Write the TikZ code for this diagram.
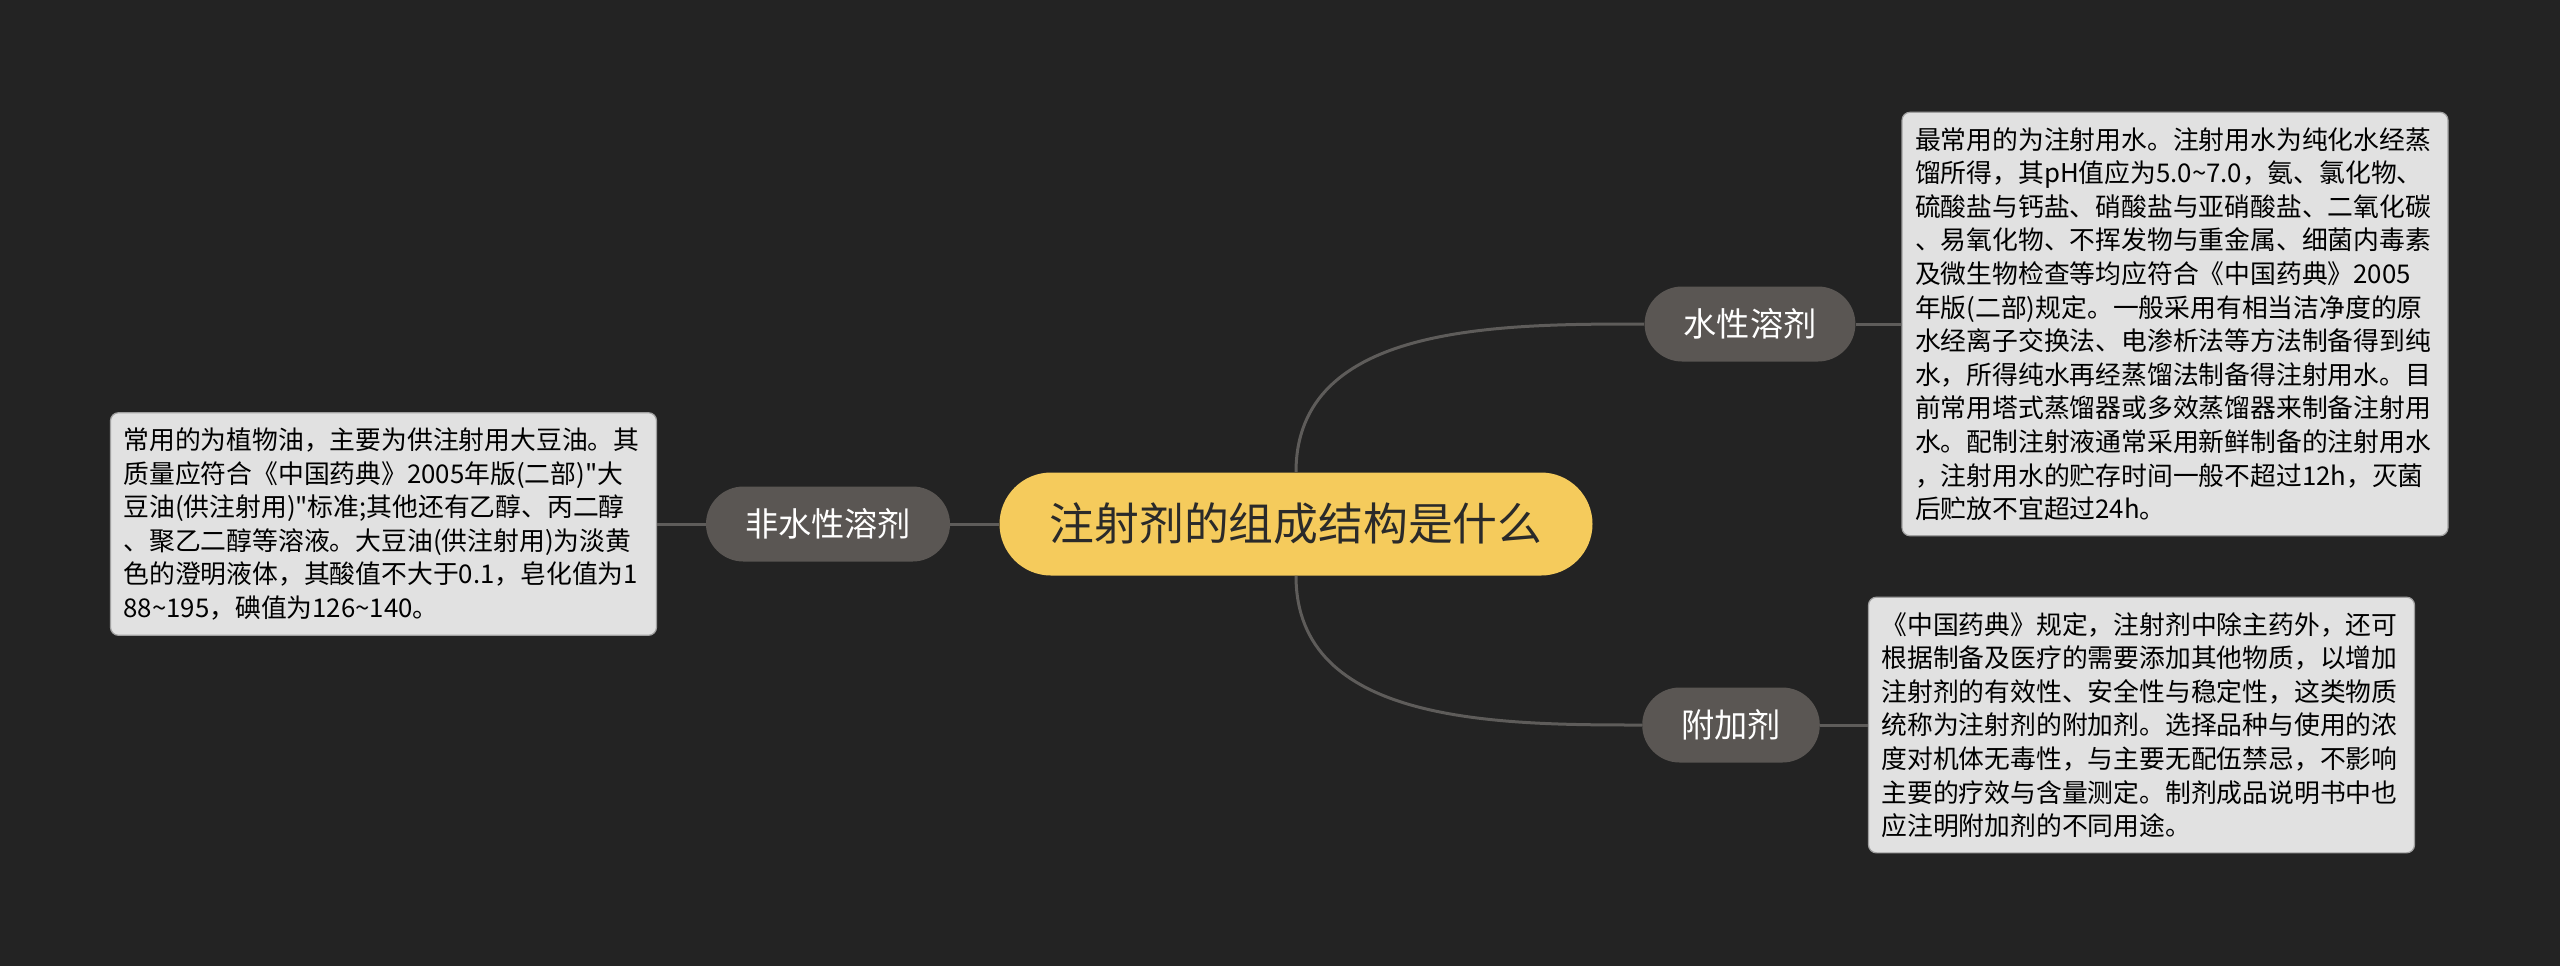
\documentclass[tikz,border=0pt]{standalone}
\usepackage{fontspec}
\setmainfont{Noto Sans CJK SC}[Ligatures=TeXOff]
\usepackage{tikz}
\usetikzlibrary{shapes}

\definecolor{bgdark}{HTML}{232323}
\definecolor{linegray}{HTML}{5E5C5A}
\definecolor{topicyellow}{HTML}{F5CB5C}
\definecolor{topictext}{HTML}{2A2A2A}
\definecolor{branchfill}{HTML}{5A5653}
\definecolor{notefill}{HTML}{E1E1E1}
\definecolor{noteline}{HTML}{A0A0A0}

\begin{document}
\begin{tikzpicture}[x=1pt,y=1pt]
      \tikzstyle{topic}=[rectangle,rounded corners=25.75pt,fill=topicyellow,text=topictext,minimum width=296.5pt,minimum height=51.5pt,font=\fontsize{22.4}{26}\selectfont]
      \tikzstyle{branch}=[rectangle,rounded corners=18.75pt,fill=branchfill,text=white,minimum height=37.5pt,inner xsep=19.5pt,font=\fontsize{16.6}{20}\selectfont]
      \tikzstyle{note}=[rectangle,rounded corners=4pt,draw=noteline,line width=0.6pt,fill=notefill,text=black,align=left,text width=260pt,inner xsep=6.5pt,inner ysep=7.5pt,font=\fontsize{12.9}{16.8}\selectfont]
      \tikzstyle{link}=[draw=linegray,line width=1.5pt]
      \fill[bgdark] (0,0) rectangle (1280,-483);
      \useasboundingbox (0,0) rectangle (1280,-483);

      \node[topic] (topic) at (648,-262) {注射剂的组成结构是什么};
      \node[branch] (nonwater) at (414,-262) {非水性溶剂};
      \node[branch] (water) at (875,-162) {水性溶剂};
      \node[branch] (additive) at (865.5,-362.5) {附加剂};

      \node[note] (nonwaternote) at (191.75,-262) {常用的为植物油，主要为供注射用大豆油。其\\
        质量应符合《中国药典》2005年版(二部)"大\\
        豆油(供注射用)"标准;其他还有乙醇、丙二醇\\
        、聚乙二醇等溶液。大豆油(供注射用)为淡黄\\
        色的澄明液体，其酸值不大于0.1，皂化值为1\\
        88\textasciitilde 195，碘值为126\textasciitilde 140。};
      \node[note] (waternote) at (1087.5,-162) {最常用的为注射用水。注射用水为纯化水经蒸\\
        馏所得，其pH值应为5.0\textasciitilde 7.0，氨、氯化物、\\
        硫酸盐与钙盐、硝酸盐与亚硝酸盐、二氧化碳\\
        、易氧化物、不挥发物与重金属、细菌内毒素\\
        及微生物检查等均应符合《中国药典》2005\\
        年版(二部)规定。一般采用有相当洁净度的原\\
        水经离子交换法、电渗析法等方法制备得到纯\\
        水，所得纯水再经蒸馏法制备得注射用水。目\\
        前常用塔式蒸馏器或多效蒸馏器来制备注射用\\
        水。配制注射液通常采用新鲜制备的注射用水\\
        ，注射用水的贮存时间一般不超过12h，灭菌\\
        后贮放不宜超过24h。};
      \node[note] (additivenote) at (1070.75,-362.5) {《中国药典》规定，注射剂中除主药外，还可\\
        根据制备及医疗的需要添加其他物质，以增加\\
        注射剂的有效性、安全性与稳定性，这类物质\\
        统称为注射剂的附加剂。选择品种与使用的浓\\
        度对机体无毒性，与主要无配伍禁忌，不影响\\
        主要的疗效与含量测定。制剂成品说明书中也\\
        应注明附加剂的不同用途。};

      \draw[link] (nonwater.east) -- (topic.west);
      \draw[link] (nonwaternote.east) -- (nonwater.west);
      \draw[link] (topic.north) to[out=90,in=180] (water.west);
      \draw[link] (topic.south) to[out=-90,in=180] (additive.west);
      \draw[link] (water.east) -- (waternote.west);
      \draw[link] (additive.east) -- (additivenote.west);
\end{tikzpicture}
\end{document}
